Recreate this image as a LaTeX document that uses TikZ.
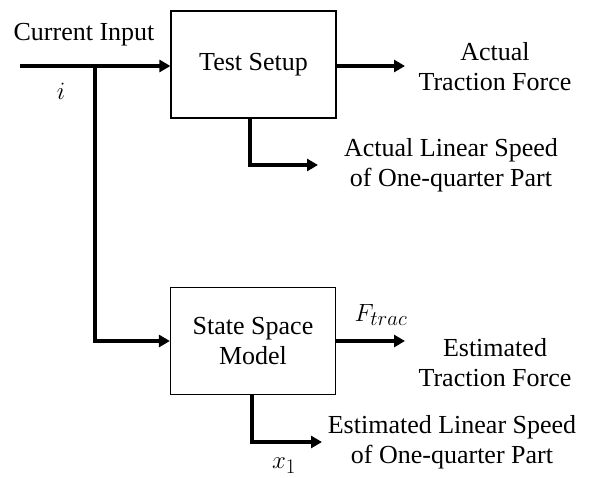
\documentclass[tikz,border=0pt]{standalone}
\usepackage{fontspec}
\setmainfont{Liberation Serif}
\usetikzlibrary{arrows.meta}
\begin{document}
\begin{tikzpicture}[x=1pt,y=-1pt,
  block/.style={draw,line width=1.2pt,minimum width=165pt,minimum height=107pt,inner sep=0pt,align=center,font=\fontsize{26}{30}\selectfont},
  lbl/.style={align=center,inner sep=0pt,font=\fontsize{26}{30}\selectfont},
  mlbl/.style={inner sep=0pt,font=\fontsize{30}{34}\selectfont},
  sig/.style={line width=3.2pt,-{Triangle[length=11pt,width=12pt]}},
  wire/.style={line width=3.2pt}]
\useasboundingbox (0,0) rectangle (592,477);
% blocks
\node[block] (test) at (253.5,64.5) {Test Setup};
\node[block] (ssm) at (253,341) {State Space\\Model};
% input and its branch
\coordinate (in) at (20,66);
\coordinate (split) at (95,66);
\draw[sig] (in) -- (test.west |- in);
\draw[sig] (split) |- (ssm.west);
% outputs of the test setup
\coordinate (tf) at (405,66);
\draw[sig] (test.east |- tf) -- (tf);
\coordinate (tsd) at (250,118);
\coordinate (ts) at (318,165);
\draw[sig] (tsd) |- (ts);
% outputs of the model
\coordinate (ef) at (405,341);
\draw[sig] (ssm.east |- ef) -- (ef);
\coordinate (esd) at (252,395);
\coordinate (es) at (322,442);
\draw[sig] (esd) |- (es);
% labels
\node[lbl] (lin) at (84,35) {Current Input};
\node[mlbl] (li) at (61,91) {$i$};
\node[lbl] (latf) at (495,67) {Actual\\Traction Force};
\node[lbl] (lals) at (451,165) {Actual Linear Speed\\of One-quarter Part};
\node[mlbl] (lft) at (381,315) {$F_{trac}$};
\node[lbl] (letf) at (495,363) {Estimated\\Traction Force};
\node[lbl] (lels) at (452,442) {Estimated Linear Speed\\of One-quarter Part};
\node[mlbl] (lx) at (284,466) {$x_1$};
\end{tikzpicture}
\end{document}
